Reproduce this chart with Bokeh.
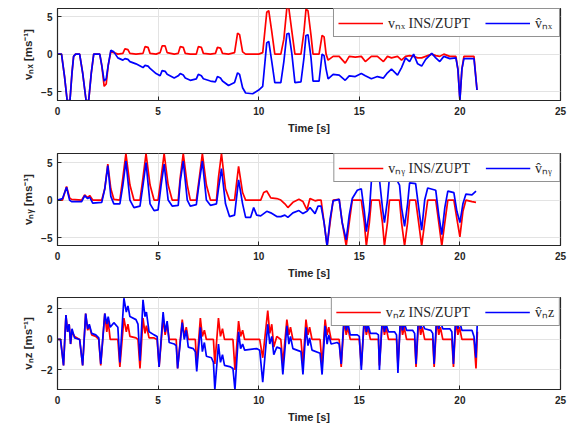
from bokeh.plotting import figure
from bokeh.layouts import column
from bokeh.models import Range1d, Legend, LegendItem, FixedTicker
from bokeh.embed import file_html
from bokeh.resources import INLINE

# ---------------- data ----------------
x_ticks = [0, 5, 10, 15, 20, 25]

t_x = [0.0, 0.2, 0.35, 0.48, 0.62, 0.72, 0.8, 0.9, 1.1, 1.25, 1.42, 1.55, 1.68, 1.8, 2.1, 2.2, 2.32,
       2.42, 2.52, 2.65, 2.8, 3.0, 3.25, 3.35, 3.5, 3.6, 3.9, 4.25, 4.35, 4.5, 4.6, 4.9, 5.1, 5.2,
       5.35, 5.45, 5.8, 6.0, 6.1, 6.25, 6.35, 6.6, 6.9, 7.0, 7.15, 7.25, 7.6, 7.85, 7.95, 8.1, 8.2,
       8.5, 8.8, 8.95, 9.05, 9.2, 9.35, 9.7, 10.0, 10.2, 10.4, 10.5, 10.65, 10.8, 11.1, 11.25, 11.4,
       11.5, 11.65, 11.8, 12.1, 12.25, 12.35, 12.45, 12.6, 12.7, 13.0, 13.15, 13.25, 13.35, 13.45,
       13.7, 14.0, 14.3, 14.5, 14.8, 15.1, 15.3, 15.6, 15.9, 16.2, 16.4, 16.6, 16.9, 17.1, 17.3,
       17.5, 17.7, 17.9, 18.1, 18.3, 18.6, 18.8, 19.0, 19.2, 19.5, 19.8, 19.9, 20.0, 20.1, 20.2,
       20.7, 20.85]
vnx_ins = [0, 0, -3, -6.2, -6.2, -2.5, -0.3, 0, 0, -2.5, -6.2, -6.2, -2.5, 0, 0, -1.5, -4.3,
           -4.0, -1.5, 0.3, 0.2, 0, 0.1, 0.7, 0.6, 0.1, 0, 0.1, 1.0, 0.9, 0.1, 0, 0.2, 1.1,
           1.1, 0.2, 0, 0.1, 1.0, 0.9, 0.1, 0, 0, 1.0, 0.9, 0.1, 0, 0.1, 0.9, 0.8, 0.1,
           0, 0.2, 2.8, 2.6, 0.3, 0, 0, 0, 0.2, 5.6, 5.8, 3, 0, 0, 2, 6.2,
           6.1, 3, 0, 0, 3, 6.0, 5.8, 2.5, 0, 0, 2.5, 2.3, 0, -0.8,
           -0.3, -0.3, -1.2, -0.3, -0.4, -0.3, -1.0, -0.3, -0.3, -1.0, -0.3, -0.5, -0.3, -0.8, -0.3,
           -0.2, -0.3, -0.5, -0.5, -0.3, 0, -0.2, -0.3, 0, -0.3, -0.3, -2, -6.1, -2, -0.3,
           -0.3, -4.8]
vnx_hat = [0, 0, -3, -6.2, -6.2, -2.5, -0.3, 0, 0, -2.5, -6.2, -6.2, -2.5, 0, 0, -1.5, -3.6,
           -3.3, -1.5, 0.5, 0.3, -0.5, -0.8, -0.6, -0.7, -1.0, -1.3, -1.8, -1.5, -1.6, -1.9, -2.6, -2.9, -2.2,
           -2.3, -2.7, -3.2, -2.9, -2.6, -2.8, -3.2, -3.5, -3.3, -2.7, -2.9, -3.3, -3.6, -3.7, -3.0, -3.2, -3.6,
           -4.2, -3.8, -2.5, -2.7, -4.5, -5.2, -5.3, -4.8, -4.3, 1.5, 1.7, -1, -3.8, -3.8, -1, 2.7,
           2.8, 0, -3.8, -3.7, -0.5, 2.5, 2.6, -0.5, -3.6, -3.6, 0, -0.2, -2, -3.3,
           -2.7, -2.8, -3.5, -2.9, -3.0, -2.6, -2.9, -3.3, -3.0, -3.2, -2.5, -2.0, -2.8, -1.8, -0.5,
           -1.0, 0.0, -1.3, -1.6, -0.7, 0.1, -0.5, -1.0, -0.3, -0.6, -0.5, -2, -6.2, -2, -0.6,
           -0.6, -4.8]

t_y = [0.0, 0.25, 0.45, 0.6, 0.7, 1.2, 1.35, 1.5, 1.6, 1.75, 2.2, 2.35, 2.5, 2.65, 2.8, 3.1, 3.25, 3.4,
       3.6, 3.8, 4.1, 4.25, 4.4, 4.6, 4.8, 5.0, 5.15, 5.3, 5.5, 5.7, 6.0, 6.1, 6.25, 6.45, 6.6, 6.9,
       7.05, 7.2, 7.4, 7.6, 7.9, 8.0, 8.15, 8.35, 8.55, 8.8, 9.0, 9.2, 9.35, 9.6, 9.75, 9.9, 10.1,
       10.25, 10.4, 10.6, 10.9, 11.1, 11.3, 11.45, 11.7, 12.0, 12.2, 12.4, 12.55, 12.8, 12.95, 13.1,
       13.25, 13.4, 13.55, 13.7, 14.0, 14.15, 14.35, 14.5, 14.65, 14.9, 15.1, 15.25, 15.35, 15.5,
       15.6, 15.8, 16.0, 16.15, 16.25, 16.4, 16.5, 16.8, 17.0, 17.1, 17.25, 17.4, 17.5, 17.8, 17.95,
       18.1, 18.25, 18.4, 18.8, 18.95, 19.1, 19.25, 19.4, 19.7, 19.85, 20.0, 20.15, 20.3, 20.6, 20.8]
vny_ins = [0, 0, 1.8, 0.3, 0.1, 0, 0.7, 0.3, 0.6, 0, 0, 1.5, 4.8, 1.5, 0.1, 0, 3, 6.2,
           2, 0, 0, 3, 6.2, 2, 0, 0, 3, 6.2, 2, 0, 0, 3, 6.2, 2, 0, 0,
           3, 6.2, 2, 0, 0, 3, 6.2, 1.5, 0, 0, 4.5, 1, 0, 0, 0, 0, 0,
           1.0, 1.2, 0.3, 0.2, 0, -0.5, -1.0, -0.3, 0.1, -0.2, -1.3, 0.2, -0.1, 0, 0,
           -3, -6.1, -3, 0, 0.1, -3, -6.1, -3, 0, 0, 0, -3, -6.1, -3,
           0, 0, 0, -3, -6.1, -3, 0, 0, 0, -3, -6.1, -3, 0, 0, -3,
           -6.1, -3, 0, 0, -3, -6.1, -3, 0, 0, -2.5, -4.9, -1.5, 0, -0.2, -0.3]
vny_hat = [0, 0.2, 1.7, 0, -0.2, -0.2, 0.6, 0.2, 0.4, -0.4, -0.3, 1.5, 4.6, 0.5, -0.5, -0.5, 2, 5.2,
           0, -1.0, -0.8, 2, 5.0, -0.5, -1.4, -1.3, 2, 4.8, 0, -0.8, -0.7, 2.5, 5.2, 0, -0.8, -0.6,
           2.5, 5.2, 0, -0.7, -0.5, 1.5, 4.2, -0.5, -2.2, -2.0, 2.7, -0.5, -2.3, -2.3, -1.0, -2.0, -2.1,
           -1.8, -1.5, -1.7, -2.2, -2.2, -2.0, -2.3, -1.7, -1.4, -1.8, -1.5, -1.0, -1.8, -0.8, -0.8,
           -3, -6.2, -2.5, -0.1, 0.1, -3, -5.3, -2.0, 0.2, 1.3, 1.5, -1.5, -4.2, -1.5,
           2.5, 2.6, 2.8, -1.0, -3.0, 0, 3.1, 3.0, 2.0, -1.0, -3.5, -0.5, 2.3, 2.2, -1,
           -4.0, 0, 1.6, 1.3, -2, -4.6, -1, 1.2, 1.0, -1.5, -3.0, -0.5, 0.8, 0.7, 1.2]

t_z = [0.0, 0.15, 0.3, 0.42, 0.5, 0.58, 0.65, 0.72, 0.85, 1.1,
       1.25, 1.4, 1.5, 1.58, 1.7, 1.9, 2.05,
       2.15, 2.35, 2.45, 2.52, 2.62, 2.8, 3.0,
       3.1, 3.3, 3.42, 3.5, 3.6, 3.9, 4.0,
       4.1, 4.25, 4.35, 4.42, 4.55, 4.8, 4.95,
       5.05, 5.25, 5.35, 5.45, 5.55, 5.8, 5.9,
       5.97, 6.2, 6.3, 6.4, 6.5, 6.75, 6.85,
       6.92, 7.1, 7.2, 7.3, 7.4, 7.65, 7.75,
       7.82, 8.0, 8.1, 8.2, 8.3, 8.6, 8.72,
       8.82, 9.0, 9.1, 9.2, 9.3, 9.9, 10.05,
       10.2, 10.45, 10.55, 10.65, 10.75, 10.9, 11.1,
       11.2, 11.4, 11.5, 11.58, 11.7, 12.1,
       12.2, 12.35, 12.45, 12.53, 12.65, 13.05,
       13.15, 13.3, 13.4, 13.48, 13.6, 13.9, 14.0,
       14.1, 14.25, 14.35, 14.43, 14.55, 14.9, 15.0,
       15.1, 15.25, 15.35, 15.43, 15.55, 15.85, 15.95,
       16.0, 16.15, 16.25, 16.33, 16.45, 16.75, 16.85,
       16.92, 17.05, 17.15, 17.23, 17.35, 17.65, 17.75,
       17.82, 17.95, 18.05, 18.13, 18.25, 18.55, 18.65,
       18.72, 18.85, 18.95, 19.03, 19.15, 19.5, 19.6,
       19.68, 19.8, 19.9, 19.98, 20.1, 20.6, 20.7, 20.8, 20.87]
vnz_ins = [0, 0, -1.7, 1.6, 0.5, 1.0, -0.3, 0.5, 0.2, 0,
           -1.7, 1.7, 0.6, 0.9, 0.3, 0.2, 0,
           -1.7, 1.7, 0.5, 1.2, 0.0, 0, 0,
           -1.8, 1.4, 0.5, 1.0, 0.2, 0.1, 0,
           -1.9, 1.4, 0.4, 0.9, 0.1, 0.1, 0,
           -1.8, 1.4, 0.3, 1.0, 0.0, 0, 0,
           -1.9, 1.3, 0.2, 0.8, 0.0, 0, 0,
           -1.7, 1.4, 0.2, 0.6, 0.0, 0, 0,
           -1.6, 1.4, 0.2, 0.7, 0.0, 0, 0,
           -2.0, 1.2, 0.2, 0.6, 0.0, 0, 0,
           -1.2, 1.9, 0.4, 1.0, -0.5, 0.2, 0,
           -1.6, 1.3, 0.3, 0.8, 0.0, 0,
           -1.6, 1.3, 0.3, 0.8, 0.0, 0,
           -1.7, 1.3, 0.3, 0.8, 0.0, 0, 0,
           -1.8, 1.3, 0.3, 0.8, 0.0, 0, 0,
           -1.7, 1.3, 0.3, 0.8, 0.0, 0, 0,
           -1.7, 1.3, 0.3, 0.8, 0.0, 0, 0,
           -1.7, 1.3, 0.3, 0.8, 0.0, 0, 0,
           -1.8, 1.3, 0.3, 0.8, 0.0, 0, 0,
           -1.8, 1.3, 0.3, 0.8, 0.0, 0, 0,
           -1.8, 1.3, 0.3, 0.8, 0.0, 0, 0, -1.9, 0.5]
vnz_hat = [0, 0, -1.7, 1.6, 0.5, 1.0, -0.3, 0.7, 0.1, 0,
           -1.7, 1.7, 0.7, 1.0, 0.4, 0.3, 0.1,
           -1.6, 1.7, 1.0, 1.5, 0.8, 1.1, 0.8,
           -1.5, 2.7, 1.8, 2.2, 1.5, 1.3, 1.0,
           -1.4, 2.6, 1.5, 1.8, 0.5, 0.3, 0.2,
           -1.8, 1.8, 0.5, 1.2, -0.2, -0.3, -0.4,
           -1.9, 1.1, 0.0, 0.6, -0.5, -0.6, -0.8,
           -2.1, 0.8, -0.8, -0.2, -1.1, -1.2, -1.5,
           -3.3, -0.3, -1.5, -1.0, -1.7, -1.8, -1.9,
           -3.3, 0.5, -0.6, -0.3, -0.7, -0.6, -0.7,
           -2.8, 1.0, -0.3, 0.2, -1.0, -0.5, -0.6,
           -2.3, 0.9, -0.3, 0.2, -0.6, -0.8,
           -2.3, 0.8, -0.4, 0.1, -0.7, -0.9,
           -2.3, 0.9, -0.3, 0.3, -0.3, -0.2, -0.3,
           -1.6, 1.6, 0.6, 1.1, 0.3, 0.3, 0.2,
           -2.0, 1.6, 0.5, 1.0, 0.4, 0.4, 0.3,
           -2.0, 1.6, 0.5, 1.0, 0.5, 0.5, 0.3,
           -2.2, 1.6, 0.6, 1.1, 0.6, 0.6, 0.4,
           -1.6, 1.7, 0.7, 1.1, 0.7, 0.6, 0.4,
           -1.6, 1.7, 0.7, 1.2, 0.7, 0.7, 0.5,
           -1.6, 1.7, 0.7, 1.2, 0.6, 0.6, 0.2, -1.2, 1.3]

panels = [
    dict(t=t_x, ins=vnx_ins, hat=vnx_hat, yr=(-6.2, 6.1), yt=[-5, 0, 5],
         ylab="vₙₓ [ms⁻¹]", l1="vₙₓ INS/ZUPT", l2="v̂ₙₓ", top=8),
    dict(t=t_y, ins=vny_ins, hat=vny_hat, yr=(-6.05, 6.2), yt=[-5, 0, 5],
         ylab="vₙᵧ [ms⁻¹]", l1="vₙᵧ INS/ZUPT", l2="v̂ₙᵧ", top=6),
    dict(t=t_z, ins=vnz_ins, hat=vnz_hat, yr=(-3.28, 2.75), yt=[-2, 0, 2],
         ylab="vₙz [ms⁻¹]", l1="vₙz INS/ZUPT", l2="v̂ₙz", top=3),
]

TXT = "#262626"
figs = []
for pn in panels:
    p = figure(width=568, height=147, output_backend="svg", toolbar_location=None,
               x_range=Range1d(0, 25), y_range=Range1d(*pn["yr"]),
               frame_width=503, frame_height=92,
               min_border_left=57, min_border_right=8,
               min_border_top=pn["top"], min_border_bottom=147 - 92 - pn["top"])
    p.background_fill_color = "white"
    p.border_fill_color = "white"
    p.outline_line_color = TXT
    p.outline_line_width = 1.2
    p.xgrid.grid_line_color = "#e3e3e3"
    p.ygrid.grid_line_color = "#e3e3e3"
    p.xaxis.ticker = FixedTicker(ticks=x_ticks)
    p.yaxis.ticker = FixedTicker(ticks=pn["yt"])
    p.xaxis.axis_label = "Time [s]"
    p.yaxis.axis_label = pn["ylab"]
    for ax in (p.xaxis[0], p.yaxis[0]):
        ax.axis_line_color = TXT
        ax.major_tick_line_color = TXT
        ax.major_tick_in = 4
        ax.major_tick_out = 0
        ax.minor_tick_line_color = None
        ax.major_label_text_font = "Liberation Sans"
        ax.major_label_text_font_style = "bold"
        ax.major_label_text_font_size = "10px"
        ax.major_label_text_color = TXT
        ax.axis_label_text_font = "Liberation Sans"
        ax.axis_label_text_font_style = "bold"
        ax.axis_label_text_color = TXT
    p.xaxis.axis_label_text_font_size = "11px"
    p.yaxis.axis_label_text_font_size = "11.5px"
    p.xaxis.major_label_standoff = 6
    p.xaxis.axis_label_standoff = 4
    p.yaxis.major_label_standoff = 5
    p.yaxis.axis_label_standoff = 4

    r1 = p.line(pn["t"], pn["ins"], line_color="#ff0000", line_width=1.7)
    r2 = p.line(pn["t"], pn["hat"], line_color="#0000ff", line_width=1.7)

    leg = Legend(items=[LegendItem(label=pn["l1"], renderers=[r1]),
                        LegendItem(label=pn["l2"], renderers=[r2])],
                 location="top_right", orientation="horizontal",
                 margin=0, padding=4, spacing=15, label_standoff=5,
                 glyph_width=45, glyph_height=18,
                 label_text_font="Liberation Serif", label_text_font_size="14px",
                 label_text_color=TXT, border_line_color=TXT, border_line_width=1,
                 background_fill_color="white", background_fill_alpha=1.0)
    p.add_layout(leg, "center")
    figs.append(p)

layout = column(*figs, spacing=0)
open("out.html", "w").write(file_html(layout, INLINE))
